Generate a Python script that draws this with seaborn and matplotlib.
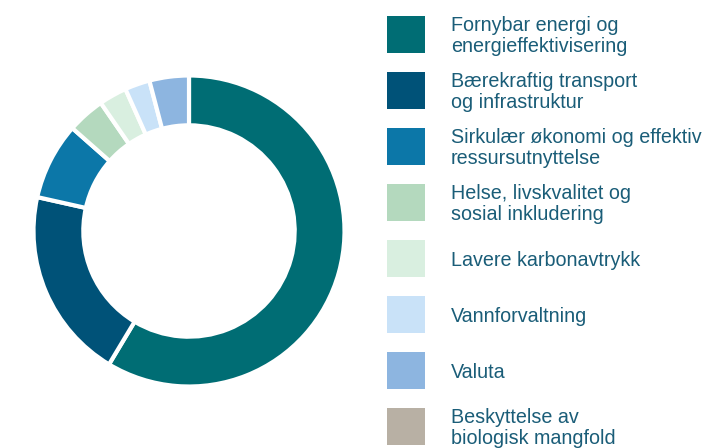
import matplotlib
matplotlib.use("Agg")
import matplotlib.pyplot as plt
from matplotlib.patches import Rectangle
import seaborn as sns

# kategorier og andeler (prosent), lest av figuren
kategorier = [
    "Fornybar energi og\nenergieffektivisering",
    "Bærekraftig transport\nog infrastruktur",
    "Sirkulær økonomi og effektiv\nressursutnyttelse",
    "Helse, livskvalitet og\nsosial inkludering",
    "Lavere karbonavtrykk",
    "Vannforvaltning",
    "Valuta",
    "Beskyttelse av\nbiologisk mangfold",
]
andeler = [58.6, 19.9, 8.0, 3.9, 2.9, 2.6, 4.1, 0.0]
farger = ["#006d74", "#005278", "#0c77a8", "#b4d9be",
          "#d9efe0", "#c9e2f8", "#8db5e0", "#b8b0a4"]
tekstfarge = "#1a5d78"

sns.set_style("white")
plt.rcParams["font.family"] = ["Liberation Sans", "DejaVu Sans"]

fig = plt.figure(figsize=(7.08, 4.48), dpi=100)

# smultring
ax = fig.add_axes([35 / 708, 63 / 448, 308 / 708, 308 / 448])
vis = [(v, c) for v, c in zip(andeler, farger) if v > 0]
ax.pie([v for v, _ in vis], colors=[c for _, c in vis], startangle=90,
       counterclock=False, radius=1.03,
       wedgeprops=dict(width=0.33, edgecolor="white", linewidth=3))
ax.set_xlim(-1.02, 1.02)
ax.set_ylim(-1.02, 1.02)
ax.set_aspect("equal")
ax.axis("off")

# forklaring
lax = fig.add_axes([0, 0, 1, 1])
lax.set_xlim(0, 708)
lax.set_ylim(448, 0)
lax.axis("off")
for i, (navn, farge) in enumerate(zip(kategorier, farger)):
    y0 = 16 + i * 56
    lax.add_patch(Rectangle((387, y0), 38, 37.5, facecolor=farge, edgecolor="none"))
    lax.text(451, y0 + 20, navn, va="center", ha="left", fontsize=14.2,
             color=tekstfarge, linespacing=1.12)

fig.savefig("out.png", dpi=100)
